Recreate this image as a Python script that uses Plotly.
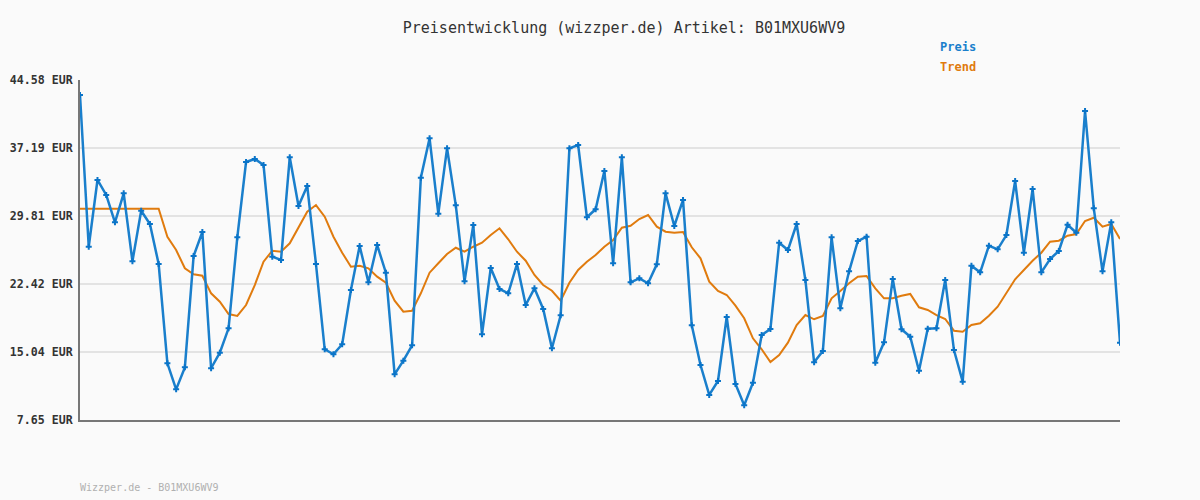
import plotly.graph_objects as go

preis = [42.95, 26.47, 33.72, 32.09, 29.12, 32.27, 24.89, 30.38, 28.94, 24.59,
         13.81, 10.98, 13.37, 25.46, 28.07, 13.27, 14.96, 17.61, 27.49, 35.67,
         36.00, 35.35, 25.39, 25.03, 36.18, 30.89, 33.07, 24.59, 15.33, 14.79,
         15.87, 21.77, 26.55, 22.61, 26.66, 23.65, 12.61, 14.09, 15.76, 33.97,
         38.25, 30.06, 37.16, 30.97, 22.72, 28.83, 16.96, 24.16, 21.88, 21.41,
         24.59, 20.14, 21.95, 19.71, 15.44, 19.02, 37.16, 37.52, 29.67, 30.54,
         34.70, 24.67, 36.18, 22.61, 23.04, 22.50, 24.56, 32.27, 28.72, 31.55,
         17.94, 13.62, 10.37, 11.89, 18.84, 11.56, 9.25, 11.70, 16.88, 17.53,
         26.91, 26.11, 28.94, 22.86, 13.92, 15.14, 27.49, 19.78, 23.80, 27.09,
         27.56, 13.87, 16.09, 22.97, 17.50, 16.70, 13.00, 17.57, 17.61, 22.86,
         15.25, 11.81, 24.41, 23.69, 26.58, 26.19, 27.74, 33.61, 25.82, 32.74,
         23.69, 25.14, 26.01, 28.86, 27.99, 41.21, 30.64, 23.80, 29.12, 16.05]

trend = [30.60, 30.60, 30.60, 30.60, 30.60, 30.60, 30.60, 30.60, 30.60, 30.60,
         27.56, 26.11, 24.13, 23.48, 23.32, 21.41, 20.50, 19.16, 18.95, 20.14,
         22.31, 24.84, 26.04, 25.93, 26.84, 28.61, 30.28, 31.00, 29.73, 27.56,
         25.82, 24.30, 24.41, 24.13, 23.22, 22.56, 20.61, 19.41, 19.52, 21.41,
         23.65, 24.67, 25.68, 26.36, 25.93, 26.47, 26.91, 27.74, 28.47, 27.28,
         25.93, 24.95, 23.40, 22.31, 21.69, 20.61, 22.56, 23.94, 24.84, 25.57,
         26.47, 27.20, 28.54, 28.75, 29.48, 29.92, 28.65, 28.10, 27.99, 28.07,
         26.41, 25.21, 22.67, 21.66, 21.23, 20.07, 18.70, 16.52, 15.33, 13.95,
         14.71, 16.05, 17.97, 19.05, 18.59, 18.95, 20.87, 21.66, 22.50, 23.22,
         23.29, 21.95, 20.87, 20.87, 21.15, 21.34, 19.89, 19.60, 19.05, 18.62,
         17.35, 17.24, 17.97, 18.15, 18.98, 19.96, 21.41, 22.93, 23.94, 24.95,
         25.82, 27.02, 27.13, 27.67, 27.85, 29.26, 29.62, 28.65, 28.94, 27.31]

tick_vals = [7.65, 15.04, 22.42, 29.81, 37.19, 44.58]
tick_text = ["7.65 EUR", "15.04 EUR", "22.42 EUR", "29.81 EUR", "37.19 EUR", "44.58 EUR"]

title_text = "Preisentwicklung (wizzper.de) Artikel: B01MXU6WV9"
footer_text = "Wizzper.de - B01MXU6WV9"

x = list(range(len(preis)))

BLUE = "#1a7fcc"
ORANGE = "#e07b0e"
MONO = "DejaVu Sans Mono, Liberation Mono, monospace"

W, H = 1200, 500
L, R, T, B = 80, 80, 80, 80
plot_w = W - L - R
plot_h = H - T - B

fig = go.Figure()
fig.add_trace(go.Scatter(
    x=x, y=trend, mode="lines", name="Trend",
    line=dict(color=ORANGE, width=2), hoverinfo="skip"))
fig.add_trace(go.Scatter(
    x=x, y=preis, mode="lines+markers", name="Preis",
    line=dict(color=BLUE, width=2.5),
    marker=dict(symbol="cross", size=5, color="#0a74c8", line=dict(width=0))))

fig.update_layout(
    width=W, height=H,
    paper_bgcolor="#fafafa", plot_bgcolor="#fafafa",
    margin=dict(l=L, r=R, t=T, b=B, autoexpand=False),
    showlegend=False,
    title=dict(text=title_text, x=624 / W, xanchor="center", y=1 - 28 / H, yanchor="middle",
               font=dict(family=MONO, size=15, color="#333333")),
    xaxis=dict(range=[0, len(preis) - 1], showgrid=False, zeroline=False,
               showticklabels=False, ticks="", showline=True, automargin=False,
               linecolor="#777777", linewidth=2),
    yaxis=dict(range=[tick_vals[0], tick_vals[-1]], tickvals=tick_vals, ticktext=tick_text,
               showgrid=True, gridcolor="#e3e3e3", gridwidth=2, zeroline=False,
               showline=True, linecolor="#777777", linewidth=2, ticks="",
               ticklabelstandoff=3, automargin=False,
               tickfont=dict(family=MONO, size=11.6, color="#333333", weight="bold")),
    annotations=[
        dict(text="<b>Preis</b>", x=(938 - L) / plot_w, y=(H - B - 47) / plot_h,
             xref="paper", yref="paper", showarrow=False, xanchor="left", yanchor="middle",
             font=dict(family=MONO, size=12, color=BLUE)),
        dict(text="<b>Trend</b>", x=(938 - L) / plot_w, y=(H - B - 67) / plot_h,
             xref="paper", yref="paper", showarrow=False, xanchor="left", yanchor="middle",
             font=dict(family=MONO, size=12, color=ORANGE)),
        dict(text=footer_text, x=0, y=(H - B - 487) / plot_h, xref="paper", yref="paper",
             showarrow=False, xanchor="left", yanchor="middle", xshift=-2,
             font=dict(family=MONO, size=10, color="#b0b0b0")),
    ],
)

fig.write_html("out.html", config={"displayModeBar": False},
               post_script="document.body.style.margin='0';document.body.style.padding='0';")
